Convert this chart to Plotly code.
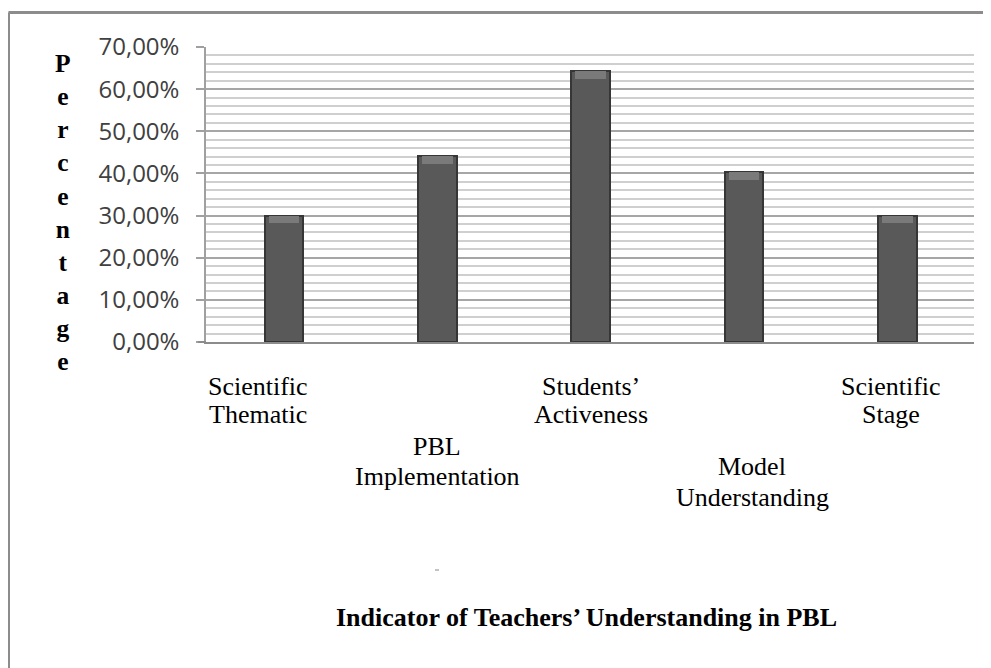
import plotly.graph_objects as go

# ---- data ----
categories = ["Scientific Thematic", "PBL Implementation", "Students’ Activeness",
              "Model Understanding", "Scientific Stage"]
label_lines = [["Scientific", "Thematic"], ["PBL", "Implementation"],
               ["Students’", "Activeness"], ["Model", "Understanding"],
               ["Scientific", "Stage"]]
values = [0.300, 0.441, 0.643, 0.403, 0.300]
y_ticks = [0.0, 0.1, 0.2, 0.3, 0.4, 0.5, 0.6, 0.7]

# ---- layout helpers (pixel geometry on the page; body has 8px margin) ----
OFF = 8
W, H = 991 - OFF, 668 - OFF
L, R, T, B = 206, 974, 47, 342   # plot area in page pixels


def px_x(px):
    return (px - L) / (R - L)


def px_y(py):
    return (B - py) / (B - T)


label_rows_px = [[386, 414], [446, 476], [386, 414], [466, 497], [386, 414]]
label_xshift = [-26, 0, 0, 8, -6]
cap = 0.018

fig = go.Figure()
fig.add_trace(go.Bar(
    x=categories, y=values, width=0.254,
    marker=dict(color="#595959", line=dict(color="#363636", width=2)),
    hoverinfo="skip",
))
fig.add_trace(go.Bar(
    x=categories, y=[cap] * len(values), base=[v - cap for v in values], width=0.2,
    marker=dict(color="#7a7a7a", line=dict(width=0)),
    hoverinfo="skip",
))

annotations = []
for cat, lines, rows, xs in zip(categories, label_lines, label_rows_px, label_xshift):
    for txt, py in zip(lines, rows):
        annotations.append(dict(
            x=cat, xref="x", y=px_y(py), yref="paper", text=txt, showarrow=False,
            xanchor="center", yanchor="middle", xshift=xs,
            font=dict(family="Liberation Serif", size=26, color="#000000"),
        ))

annotations.append(dict(
    x=px_x(63), y=px_y(212), xref="paper", yref="paper",
    text="<br>".join(list("Percentage")), showarrow=False,
    xanchor="center", yanchor="middle",
    font=dict(family="Liberation Serif", size=25.5, color="#000000", weight="bold"),
))
annotations.append(dict(
    x=px_x(586), y=px_y(617), xref="paper", yref="paper",
    text="Indicator of Teachers’ Understanding in PBL", showarrow=False,
    xanchor="center", yanchor="middle",
    font=dict(family="Liberation Serif", size=26, color="#000000", weight="bold"),
))

shapes = [
    dict(type="line", xref="paper", yref="paper", x0=px_x(8.5), x1=px_x(8.5),
         y0=px_y(12.5), y1=px_y(700), line=dict(color="#8c8c8c", width=3)),
    dict(type="line", xref="paper", yref="paper", x0=px_x(8.5), x1=px_x(1000),
         y0=px_y(12.5), y1=px_y(12.5), line=dict(color="#8c8c8c", width=3)),
    dict(type="line", xref="paper", yref="paper", x0=px_x(435), x1=px_x(439),
         y0=px_y(570), y1=px_y(570), line=dict(color="#888888", width=1)),
    dict(type="line", xref="paper", yref="paper", x0=px_x(198), x1=px_x(206),
         y0=0, y1=0, line=dict(color="#8c8c8c", width=2)),
]

fig.update_layout(
    width=W, height=H,
    margin=dict(l=L - OFF, r=W - (R - OFF), t=T - OFF, b=H - (B - OFF)),
    paper_bgcolor="white", plot_bgcolor="white",
    separators=",.",
    showlegend=False,
    annotations=annotations,
    shapes=shapes,
    bargap=0, barmode="overlay",
)
fig.update_xaxes(
    showticklabels=False, showgrid=False, showline=True,
    linecolor="#8c8c8c", linewidth=2, ticks="", zeroline=False,
)
fig.update_yaxes(
    range=[0, 0.7], tickvals=y_ticks, tickformat=".2%",
    showline=True, linecolor="#a0a0a0", linewidth=1.5,
    ticks="outside", ticklen=8, tickcolor="#a0a0a0", tickwidth=1.5,
    ticklabelstandoff=12,
    tickfont=dict(family="Open Sans", size=24, color="#404040"),
    showgrid=True, gridcolor="#a6a6a6", gridwidth=1.5, zeroline=False,
    minor=dict(dtick=0.02, showgrid=True, gridcolor="#cfcfcf", gridwidth=1.5, ticks=""),
)

fig.write_html("out.html")
